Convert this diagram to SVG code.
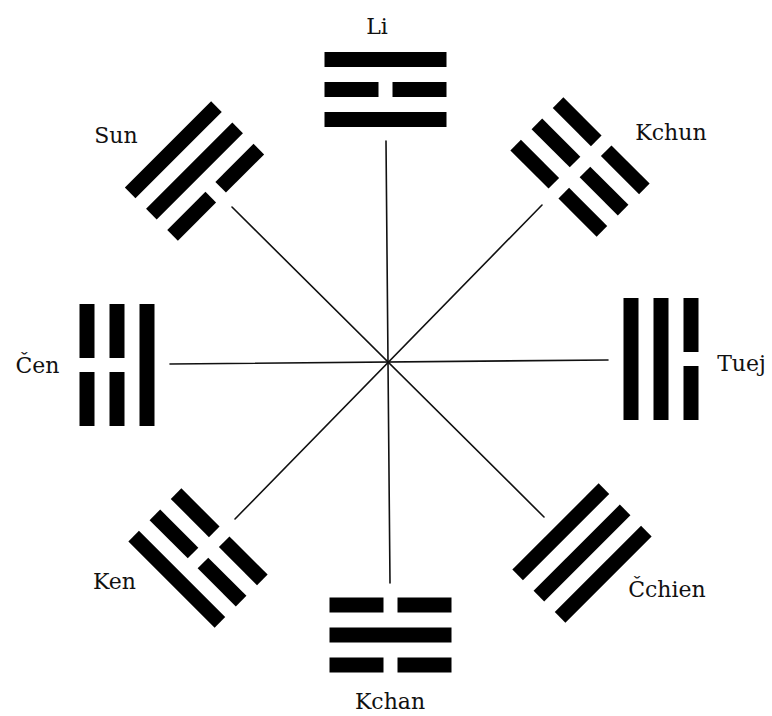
<svg xmlns="http://www.w3.org/2000/svg" xmlns:xlink="http://www.w3.org/1999/xlink" width="772" height="716" viewBox="0 0 772 716">
<style>
.lbl{font-family:"DejaVu Serif","Liberation Serif",serif;font-size:22px;fill:#111;text-anchor:middle}
.ln{stroke:#111;stroke-width:1.6;fill:none;stroke-linecap:round}
.bar{fill:#000}
</style>
<defs>
<rect id="solid" class="bar" x="-61" y="-7.5" width="122" height="15"/>
<g id="broken"><rect class="bar" x="-61" y="-7.5" width="54" height="15"/><rect class="bar" x="7" y="-7.5" width="54" height="15"/></g>
</defs>
<rect width="772" height="716" fill="#fff"/>
<g id="connectors">
<line class="ln" x1="386" y1="141" x2="390" y2="583"/>
<line class="ln" x1="170" y1="364" x2="608" y2="360"/>
<line class="ln" x1="232" y1="207" x2="544" y2="517"/>
<line class="ln" x1="542" y1="205" x2="235" y2="519"/>
</g>
<g id="li">
<g transform="translate(385.5,89.5)"><use xlink:href="#solid" y="-30"/><use xlink:href="#broken" y="0"/><use xlink:href="#solid" y="30"/></g>
<text class="lbl" x="377" y="34">Li</text>
</g>
<g id="kchun">
<g transform="translate(580,167) rotate(45)"><use xlink:href="#broken" y="-30"/><use xlink:href="#broken" y="0"/><use xlink:href="#broken" y="30"/></g>
<text class="lbl" x="671" y="140">Kchun</text>
</g>
<g id="tuej">
<g transform="translate(661,359) rotate(90)"><use xlink:href="#broken" y="-30"/><use xlink:href="#solid" y="0"/><use xlink:href="#solid" y="30"/></g>
<text class="lbl" x="741.5" y="371">Tuej</text>
</g>
<g id="cchien">
<g transform="translate(582,553) rotate(135)"><use xlink:href="#solid" y="-30"/><use xlink:href="#solid" y="0"/><use xlink:href="#solid" y="30"/></g>
<text class="lbl" x="667" y="597">Čchien</text>
</g>
<g id="kchan">
<g transform="translate(390.5,635) rotate(180)"><use xlink:href="#broken" y="-30"/><use xlink:href="#solid" y="0"/><use xlink:href="#broken" y="30"/></g>
<text class="lbl" x="390" y="709">Kchan</text>
</g>
<g id="ken">
<g transform="translate(198,558) rotate(225)"><use xlink:href="#solid" y="-30"/><use xlink:href="#broken" y="0"/><use xlink:href="#broken" y="30"/></g>
<text class="lbl" x="114.5" y="589">Ken</text>
</g>
<g id="cen">
<g transform="translate(117,365) rotate(-90)"><use xlink:href="#broken" y="-30"/><use xlink:href="#broken" y="0"/><use xlink:href="#solid" y="30"/></g>
<text class="lbl" x="37.5" y="373">Čen</text>
</g>
<g id="sun">
<g transform="translate(194.5,171) rotate(-45)"><use xlink:href="#solid" y="-30"/><use xlink:href="#solid" y="0"/><use xlink:href="#broken" y="30"/></g>
<text class="lbl" x="116" y="143">Sun</text>
</g>
</svg>
